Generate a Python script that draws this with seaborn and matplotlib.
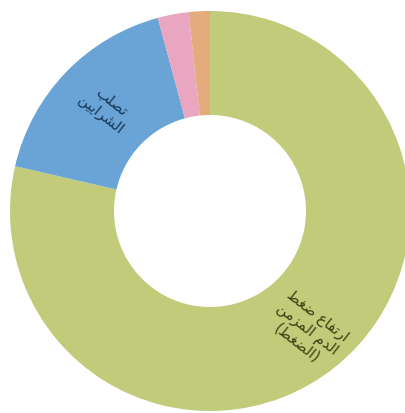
import matplotlib
matplotlib.use("Agg")
import matplotlib.pyplot as plt
import seaborn as sns
import numpy as np

# ---- data ----
categories = ["ارتفاع ضغط\nالدم المزمن\n(الضغط)", "تصلب\nالشرايين", "أخرى", "غير ذلك"]
values = [78.6, 17.2, 2.5, 1.7]
colors = ["#c1cb7a", "#6aa3d5", "#e8a6c0", "#e4ab7c"]
label_colors = ["#3a4212", "#17385a", "#000000", "#000000"]
show_label = [True, True, False, False]

# ---- minimal Arabic shaping for display (matplotlib has no shaping) ----
FORMS = {
    "ا": (0xFE8D, 0xFE8E, None, None), "أ": (0xFE83, 0xFE84, None, None),
    "إ": (0xFE87, 0xFE88, None, None), "آ": (0xFE81, 0xFE82, None, None),
    "ب": (0xFE8F, 0xFE90, 0xFE91, 0xFE92), "ة": (0xFE93, 0xFE94, None, None),
    "ت": (0xFE95, 0xFE96, 0xFE97, 0xFE98), "ث": (0xFE99, 0xFE9A, 0xFE9B, 0xFE9C),
    "ج": (0xFE9D, 0xFE9E, 0xFE9F, 0xFEA0), "ح": (0xFEA1, 0xFEA2, 0xFEA3, 0xFEA4),
    "خ": (0xFEA5, 0xFEA6, 0xFEA7, 0xFEA8), "د": (0xFEA9, 0xFEAA, None, None),
    "ذ": (0xFEAB, 0xFEAC, None, None), "ر": (0xFEAD, 0xFEAE, None, None),
    "ز": (0xFEAF, 0xFEB0, None, None), "س": (0xFEB1, 0xFEB2, 0xFEB3, 0xFEB4),
    "ش": (0xFEB5, 0xFEB6, 0xFEB7, 0xFEB8), "ص": (0xFEB9, 0xFEBA, 0xFEBB, 0xFEBC),
    "ض": (0xFEBD, 0xFEBE, 0xFEBF, 0xFEC0), "ط": (0xFEC1, 0xFEC2, 0xFEC3, 0xFEC4),
    "ظ": (0xFEC5, 0xFEC6, 0xFEC7, 0xFEC8), "ع": (0xFEC9, 0xFECA, 0xFECB, 0xFECC),
    "غ": (0xFECD, 0xFECE, 0xFECF, 0xFED0), "ف": (0xFED1, 0xFED2, 0xFED3, 0xFED4),
    "ق": (0xFED5, 0xFED6, 0xFED7, 0xFED8), "ك": (0xFED9, 0xFEDA, 0xFEDB, 0xFEDC),
    "ل": (0xFEDD, 0xFEDE, 0xFEDF, 0xFEE0), "م": (0xFEE1, 0xFEE2, 0xFEE3, 0xFEE4),
    "ن": (0xFEE5, 0xFEE6, 0xFEE7, 0xFEE8), "ه": (0xFEE9, 0xFEEA, 0xFEEB, 0xFEEC),
    "و": (0xFEED, 0xFEEE, None, None), "ى": (0xFEEF, 0xFEF0, None, None),
    "ي": (0xFEF1, 0xFEF2, 0xFEF3, 0xFEF4),
}


def shape_line(s):
    out = []
    n = len(s)
    for i, ch in enumerate(s):
        if ch not in FORMS:
            out.append(ch)
            continue
        prev = s[i - 1] if i > 0 else ""
        nxt = s[i + 1] if i + 1 < n else ""
        join_prev = prev in FORMS and FORMS[prev][2] is not None
        join_next = nxt in FORMS and FORMS[ch][2] is not None
        iso, fin, ini, med = FORMS[ch]
        if join_prev and join_next:
            cp = med
        elif join_prev:
            cp = fin
        elif join_next:
            cp = ini
        else:
            cp = iso
        out.append(chr(cp))
    res = "".join(out)
    res = res.replace("\uFEDF\uFE8E", "\uFEFB").replace("\uFEE0\uFE8E", "\uFEFC")
    mirror = {"(": ")", ")": "("}
    return "".join(mirror.get(c, c) for c in reversed(res))


def shape(text):
    return "\n".join(shape_line(l) for l in text.split("\n"))


sns.set_theme(style="white")
plt.rcParams["font.family"] = ["DejaVu Sans"]

fig = plt.figure(figsize=(4.05, 4.14), dpi=100)
ax = fig.add_axes([10 / 405, 2 / 414, 400 / 405, 400 / 414])

palette = sns.color_palette(colors)
wedges, _ = ax.pie(values, colors=palette, startangle=90, counterclock=False,
                   radius=1.0, wedgeprops=dict(width=0.52, linewidth=0))

for w, lab, show, tc in zip(wedges, categories, show_label, label_colors):
    if not show:
        continue
    ang = np.deg2rad((w.theta1 + w.theta2) / 2)
    r = 0.75
    ax.text(r * np.cos(ang) + 0.02, r * np.sin(ang), shape(lab), ha="center", va="center",
            rotation=-38, rotation_mode="anchor", fontsize=10.5, color=tc,
            linespacing=1.1)

ax.set_xlim(-1, 1)
ax.set_ylim(-1, 1)
ax.set_aspect("equal")
ax.axis("off")
fig.savefig("out.png", dpi=100)
